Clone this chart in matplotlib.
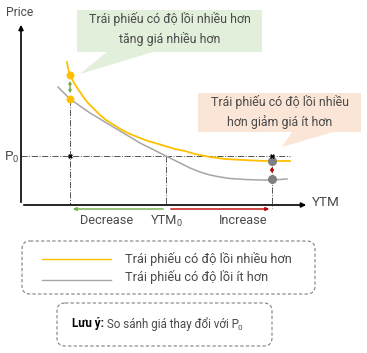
import matplotlib.pyplot as plt
from matplotlib.patches import FancyBboxPatch, Polygon

plt.rcParams['font.family'] = ['Roboto', 'DejaVu Sans']

# curve points (x = YTM, y = price, image units, y downwards)
ytm_more = [67, 68, 70, 73, 76, 80, 84, 88, 94, 100, 106, 114, 122, 130, 140, 148, 155,
            165, 175, 185, 195, 210, 225, 243, 265, 290]
price_more = [62, 68, 75, 81, 86, 92, 98, 103, 109, 115, 120, 125, 130, 134, 138, 141, 143,
              146, 149, 151, 154, 157, 159, 160, 161, 161]
ytm_less = [58, 64, 70, 80, 90, 100, 110, 120, 130, 140, 150, 160, 170, 180, 190, 200,
            210, 220, 230, 245, 260, 272, 287]
price_less = [87, 93, 99, 106, 113, 119, 125, 131, 137, 143, 148, 153, 158, 163, 168, 172,
              175, 177, 178.5, 179.5, 180, 180, 179]

ytm0, p0 = 166, 156
ytm_low, ytm_high = 70, 272
more_hi, more_lo = 75, 161   # price of bond with more convexity at low / high YTM
less_hi, less_lo = 99, 179   # price of bond with less convexity

legend_labels = ['Trái phiếu có độ lồi nhiều hơn', 'Trái phiếu có độ lồi ít hơn']
callout_up = 'Trái phiếu có độ lồi nhiều hơn\ntăng giá nhiều hơn'
callout_down = 'Trái phiếu có độ lồi nhiều\nhơn giảm giá ít hơn'

orange = '#FFC000'
grey = '#A6A6A6'
dark = '#4a4a4a'
green = '#70AD47'
red = '#C00000'
fs = 9.2

fig = plt.figure(figsize=(3.67, 3.53), dpi=100)
ax = fig.add_axes([0, 0, 1, 1])
ax.set_xlim(0, 367)
ax.set_ylim(353, 0)
ax.axis('off')


def sub_label(x, y, main, sub, ha='center', size=fs, color=dark, **kw):
    t = ax.text(x, y, main, ha=ha, va='center', fontsize=size, color=color, **kw)
    ax.annotate(sub, xycoords=t, xy=(1, 0.2), xytext=(-0.8, 0), textcoords='offset points',
                ha='left', va='center', fontsize=size * 0.7, color=color)
    return t


x0, y_axis_bottom = 21, 205

# callouts
ax.add_patch(Polygon([(77, 10), (262, 10), (262, 52), (153, 52), (80, 74), (107, 52), (77, 52)],
                     closed=True, fc='#E2EFDA', ec='none', zorder=1))
ax.text(170, 29, callout_up, ha='center', va='center', fontsize=fs - 0.3, color=dark,
        linespacing=1.5)
ax.add_patch(Polygon([(198, 93), (361, 93), (361, 132), (333, 132), (282, 147), (292, 132), (198, 132)],
                     closed=True, fc='#FBE5D6', ec='none', zorder=1))
ax.text(280, 112, callout_down, ha='center', va='center', fontsize=fs - 0.3, color=dark,
        linespacing=1.5)

# axes
ax.annotate('', xy=(x0, 22), xytext=(x0, y_axis_bottom),
            arrowprops=dict(arrowstyle='-|>', color='black', lw=1.2, mutation_scale=7))
ax.annotate('', xy=(309, y_axis_bottom), xytext=(x0, y_axis_bottom),
            arrowprops=dict(arrowstyle='-|>', color='black', lw=1.2, mutation_scale=7))
ax.text(20, 12, 'Price', ha='center', va='center', fontsize=fs - 0.5, color=dark)
ax.text(312, 203, 'YTM', ha='left', va='center', fontsize=fs + 0.5, color=dark)
sub_label(5, p0, 'P', '0', ha='left', size=fs + 0.5)

# guide lines
guide = dict(color='#555555', lw=0.7, ls='-.', zorder=2)
ax.plot([x0, 290], [p0, p0], **guide)
ax.plot([ytm_low, ytm_low], [less_hi, y_axis_bottom], **guide)
ax.plot([ytm0, ytm0], [p0, y_axis_bottom], **guide)
ax.plot([ytm_high, ytm_high], [p0, y_axis_bottom + 3], **guide)

# curves
ax.plot(ytm_less, price_less, color=grey, lw=1.1, zorder=3)
ax.plot(ytm_more, price_more, color=orange, lw=1.3, zorder=3)

# price change arrows
ax.annotate('', xy=(ytm_low, more_hi + 3), xytext=(ytm_low, less_hi - 3),
            arrowprops=dict(arrowstyle='<|-|>', color=green, lw=1, mutation_scale=4), zorder=4)
ax.annotate('', xy=(ytm_high, more_lo + 3), xytext=(ytm_high, less_lo - 3),
            arrowprops=dict(arrowstyle='<|-|>', color=red, lw=1, mutation_scale=4), zorder=4)

# markers
ax.scatter([ytm_low, ytm_low], [more_hi, less_hi], s=22, color=orange, zorder=5)
ax.scatter([ytm_high, ytm_high], [more_lo, less_lo], s=30, color='#7F7F7F', zorder=5)
ax.scatter([ytm_low, ytm_high], [p0, p0], s=12, marker='X', color='black', lw=0, zorder=6)

# YTM change arrows
ax.annotate('', xy=(ytm_low, 209), xytext=(ytm0, 209),
            arrowprops=dict(arrowstyle='-|>', color=green, lw=1, mutation_scale=5))
ax.annotate('', xy=(ytm_high, 209), xytext=(ytm0 + 2, 209),
            arrowprops=dict(arrowstyle='-|>', color=red, lw=1, mutation_scale=5))
ax.text(107, 220, 'Decrease', ha='center', va='center', fontsize=fs, color=dark)
sub_label(151, 220, 'YTM', '0', ha='left', size=fs)
ax.text(243, 220, 'Increase', ha='center', va='center', fontsize=fs, color=dark)

# legend box
ax.add_patch(FancyBboxPatch((22, 241), 293, 53, boxstyle='round,pad=0,rounding_size=8',
                            fc='none', ec='#808080', ls=(0, (3, 2)), lw=0.8))
ax.plot([42, 111], [259, 259], color=orange, lw=1)
ax.plot([42, 111], [280, 280], color=grey, lw=1)
ax.text(125, 259, legend_labels[0], ha='left', va='center', fontsize=fs, color=dark)
ax.text(125, 277, legend_labels[1], ha='left', va='center', fontsize=fs, color=dark)

# note box
ax.add_patch(FancyBboxPatch((57, 303), 215, 43, boxstyle='round,pad=0,rounding_size=8',
                            fc='none', ec='#808080', ls=(0, (3, 2)), lw=0.8))
t = ax.text(72, 324, 'Lưu ý:', ha='left', va='center', fontsize=8.4, color='black',
            fontweight='bold')
t2 = ax.annotate(' So sánh giá thay đổi với P', xycoords=t, xy=(1, 0.5), va='center', ha='left',
                 fontsize=8.4, color=dark)
ax.annotate('0', xycoords=t2, xy=(1, 0.2), xytext=(-0.8, 0), textcoords='offset points',
            va='center', ha='left', fontsize=8.4 * 0.7, color=dark)

fig.savefig('out.png', dpi=100)
